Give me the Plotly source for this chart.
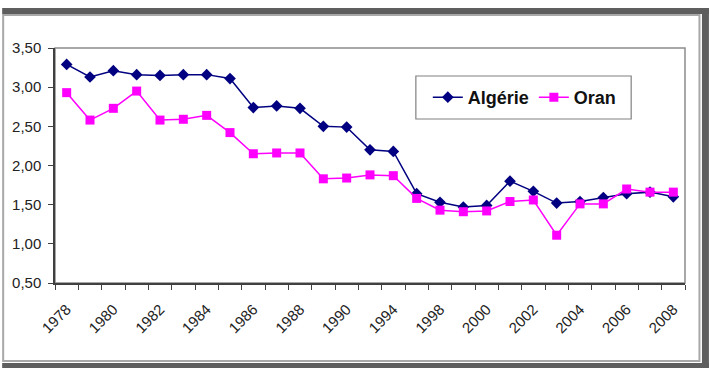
import plotly.graph_objects as go

years = ["1978", "1979", "1980", "1981", "1982", "1983", "1984", "1985", "1986",
         "1987", "1988", "1989", "1990", "1992", "1994", "1996", "1998", "1999",
         "2000", "2001", "2002", "2003", "2004", "2005", "2006", "2007", "2008"]
tick_labels = [y if i % 2 == 0 else "" for i, y in enumerate(years)]

algerie = [3.29, 3.13, 3.21, 3.16, 3.15, 3.16, 3.16, 3.11, 2.74, 2.76, 2.73, 2.50,
           2.49, 2.20, 2.18, 1.64, 1.53, 1.47, 1.49, 1.80, 1.67, 1.52, 1.54, 1.59,
           1.64, 1.66, 1.60]
oran = [2.93, 2.58, 2.73, 2.95, 2.58, 2.59, 2.64, 2.42, 2.15, 2.16, 2.16, 1.83,
        1.84, 1.88, 1.87, 1.58, 1.43, 1.41, 1.42, 1.54, 1.56, 1.11, 1.51, 1.51,
        1.70, 1.66, 1.66]

y_ticks = [0.5, 1.0, 1.5, 2.0, 2.5, 3.0, 3.5]

W, H = 709, 368
L, R, T, B = 53, 685, 48, 283


def px(x):
    return (x - L) / (R - L)


def py(y):
    return (B - y) / (B - T)


fig = go.Figure()
fig.add_trace(go.Scatter(
    x=years, y=algerie, name="Algérie", mode="lines+markers",
    line=dict(color="#000080", width=1.5),
    marker=dict(symbol="diamond", size=9, color="#000080"),
))
fig.add_trace(go.Scatter(
    x=years, y=oran, name="Oran", mode="lines+markers",
    line=dict(color="#FF00FF", width=1.5),
    marker=dict(symbol="square", size=9, color="#FF00FF"),
))

shapes = [
    # plot area border (gray)
    dict(type="rect", xref="paper", yref="paper", x0=0, x1=1, y0=0, y1=1,
         line=dict(color="#8c8c8c", width=1.5), layer="below"),
    # legend box
    dict(type="rect", xref="paper", yref="paper",
         x0=px(415), x1=px(631), y0=py(76), y1=py(119),
         line=dict(color="#808080", width=1.2), fillcolor="white", layer="below"),
    # outer light frame
    dict(type="rect", xref="paper", yref="paper",
         x0=px(1), x1=px(699.5), y0=py(15), y1=py(361),
         line=dict(color="#a8a8a8", width=2)),
    # top dark band
    dict(type="rect", xref="paper", yref="paper",
         x0=px(0), x1=px(709), y0=py(8), y1=py(14),
         line=dict(width=0), fillcolor="#5e5e5e"),
    # right dark band
    dict(type="rect", xref="paper", yref="paper",
         x0=px(702), x1=px(709), y0=py(8), y1=py(368),
         line=dict(width=0), fillcolor="#5e5e5e"),
    # bottom dark band
    dict(type="rect", xref="paper", yref="paper",
         x0=px(0), x1=px(709), y0=py(363), y1=py(368),
         line=dict(width=0), fillcolor="#5e5e5e"),
]

fig.update_layout(
    width=W, height=H,
    margin=dict(l=L, r=W - R, t=T, b=H - B),
    paper_bgcolor="white", plot_bgcolor="white",
    separators=", ",
    font=dict(family="Arial, Liberation Sans, sans-serif", size=15, color="#222222"),
    showlegend=True,
    legend=dict(
        orientation="h", x=px(427), y=py(97.5), xanchor="left", yanchor="middle",
        bgcolor="rgba(0,0,0,0)", borderwidth=0,
        font=dict(size=18, color="#111111", family="Arial, Liberation Sans, sans-serif",
                  weight="bold"),
        itemwidth=30,
    ),
    shapes=shapes,
    xaxis=dict(
        type="category", range=[-0.5, len(years) - 0.5],
        tickmode="array", tickvals=years, ticktext=tick_labels,
        tickson="boundaries", ticks="outside", ticklen=5, tickcolor="#404040",
        tickangle=-45, showgrid=False, zeroline=False,
        showline=True, linecolor="#404040", linewidth=1.5,
        tickfont=dict(size=15, color="#222222"),
        ticklabelstandoff=10,
    ),
    yaxis=dict(
        range=[0.5, 3.5], tickmode="array", tickvals=y_ticks,
        tickformat=".2f", ticks="outside", ticklen=5, tickcolor="#404040",
        showgrid=False, zeroline=False,
        showline=True, linecolor="#404040", linewidth=1.5,
        tickfont=dict(size=15, color="#222222"),
        ticklabelstandoff=4,
    ),
)

fig.write_html("out.html")
